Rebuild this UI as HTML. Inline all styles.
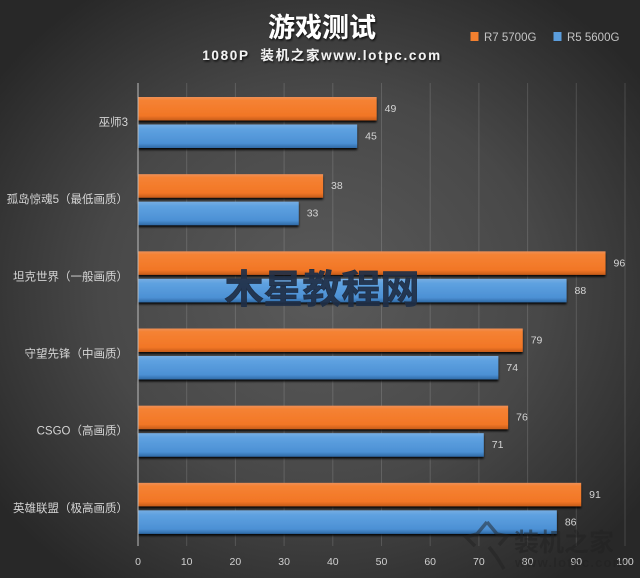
<!DOCTYPE html>
<html lang="zh">
<head>
<meta charset="utf-8">
<title>游戏测试</title>
<style>
html,body{margin:0;padding:0;background:#333;}
#chart{display:block;width:640px;height:578px;font-family:"Liberation Sans","Noto Sans CJK SC",sans-serif;}
</style>
</head>
<body>
<svg id="chart" xmlns="http://www.w3.org/2000/svg" width="640" height="578" viewBox="0 0 640 578">
  <defs>
    <radialGradient id="bgGrad" gradientUnits="userSpaceOnUse" cx="320" cy="290" r="400" gradientTransform="translate(0 29) scale(1 0.9)">
      <stop offset="0" stop-color="#5a5a5a"/>
      <stop offset="0.55" stop-color="#484848"/>
      <stop offset="1" stop-color="#282828"/>
    </radialGradient>
    <linearGradient id="orangeGrad" x1="0" y1="0" x2="0" y2="1">
      <stop offset="0" stop-color="#ee9058"/>
      <stop offset="0.14" stop-color="#f58233"/>
      <stop offset="0.8" stop-color="#f27626"/>
      <stop offset="1" stop-color="#c65c1a"/>
    </linearGradient>
    <linearGradient id="blueGrad" x1="0" y1="0" x2="0" y2="1">
      <stop offset="0" stop-color="#76ade2"/>
      <stop offset="0.2" stop-color="#5ea1e0"/>
      <stop offset="0.8" stop-color="#4c90d4"/>
      <stop offset="1" stop-color="#2f6aa6"/>
    </linearGradient>
    <filter id="barShadow" x="-5%" y="-20%" width="110%" height="150%">
      <feDropShadow dx="0" dy="2" stdDeviation="1" flood-color="#000" flood-opacity="0.9"/>
    </filter>
    <filter id="titleShadow" x="-20%" y="-30%" width="140%" height="170%">
      <feDropShadow dx="1" dy="1.5" stdDeviation="1" flood-color="#000" flood-opacity="0.8"/>
    </filter>
    <filter id="soften" x="-5%" y="-5%" width="110%" height="110%">
      <feGaussianBlur stdDeviation="0.35"/>
    </filter>
  </defs>

  <rect width="640" height="578" fill="url(#bgGrad)"/>

  <g id="grid"></g>

  <g filter="url(#titleShadow)">
    <text x="322" y="37" text-anchor="middle" font-size="27" font-weight="700" fill="#ffffff">游戏测试</text>
  </g>
  <g filter="url(#titleShadow)">
    <text x="322" y="60" text-anchor="middle" font-size="13.500" font-weight="700" fill="#f2f2f2" letter-spacing="1.700" xml:space="preserve">1080P  装机之家www.lotpc.com</text>
  </g>

  <g>
    <g>
      <rect x="470.500" y="32" width="8" height="9" fill="#f3802f"/>
      <text x="484" y="41" font-size="11.500" fill="#c4c4c4">R7 5700G</text>
    </g>
    <g>
      <rect x="553.500" y="32" width="8" height="9" fill="#5b9ddc"/>
      <text x="567" y="41" font-size="11.500" fill="#c4c4c4">R5 5600G</text>
    </g>
  </g>

  <g id="bars"></g>
  <g id="values" filter="url(#soften)"></g>
  <g id="cats" filter="url(#soften)"></g>
  <g id="ticks" filter="url(#soften)"></g>

  <line x1="138" y1="83" x2="138" y2="546" stroke="#bdbdbd" stroke-width="1"/>

  <text x="322" y="303" text-anchor="middle" font-size="39" font-weight="700" fill="#1f2f47" fill-opacity="0.92" stroke="#1f2f47" stroke-width="0.800" style="font-family:'Noto Sans CJK SC','WenQuanYi Zen Hei',sans-serif">木星教程网</text>

  <g opacity="0.5">
    <path d="M487 522 L497 534 L507 536 L499 545 M487 522 L477 534 L466 537 L475 546 M489 547 L496 556 L504 569" fill="none" stroke="#222" stroke-width="3.500"/>
    <text x="514" y="551" font-size="25" font-weight="700" fill="#222">装机之家</text>
    <text x="515" y="567" font-size="13" font-weight="700" fill="#222" letter-spacing="1.200">www.lotpc.com</text>
  </g>
</svg>
<script>
var categories = ["巫师3", "孤岛惊魂5（最低画质）", "坦克世界（一般画质）", "守望先锋（中画质）", "CSGO（高画质）", "英雄联盟（极高画质）"];
var seriesR7 = [49, 38, 96, 79, 76, 91];
var seriesR5 = [45, 33, 88, 74, 71, 86];
var tickLabels = [0, 10, 20, 30, 40, 50, 60, 70, 80, 90, 100];

var NS = "http://www.w3.org/2000/svg";
var plotLeft = 138, plotRight = 625, plotTop = 83, plotBottom = 546;
var axisMax = 100;
function xScale(v) { return plotLeft + (v / axisMax) * (plotRight - plotLeft); }
function bandTop(i) { return 97 + i * (plotBottom - plotTop) / 6; }
function make(tag, attrs, parent) {
  var el = document.createElementNS(NS, tag);
  for (var k in attrs) el.setAttribute(k, attrs[k]);
  parent.appendChild(el);
  return el;
}
var grid = document.getElementById("grid");
var ticks = document.getElementById("ticks");
var bars = document.getElementById("bars");
var values = document.getElementById("values");
var cats = document.getElementById("cats");

tickLabels.forEach(function (t) {
  var x = xScale(t);
  if (t > 0) {
    var ln = make("line", {x1: x, x2: x, y1: plotTop, y2: plotBottom, stroke: "#ffffff", "stroke-opacity": 0.14, "stroke-width": 1}, grid);
    
    
  }
  var tx = make("text", {x: x, y: 565, "text-anchor": "middle", "font-size": 10.5, fill: "#d0d0d0"}, ticks);
  
  
  tx.textContent = t;
});

function drawSeries(vals, fillId, offset, barName, valueName) {
  vals.forEach(function (v, i) {
    var y = bandTop(i) + offset;
    var r = make("rect", {x: xScale(0), y: y, width: xScale(v) - xScale(0), height: 23.5, fill: "url(#" + fillId + ")", filter: "url(#barShadow)"}, bars);
    
    
    var t = make("text", {x: xScale(v) + 8, y: y + 15, "font-size": 10.5, fill: "#d4d4d4"}, values);
    
    
    t.textContent = v;
  });
}
drawSeries(seriesR7, "orangeGrad", 0, "bar-r7-5700g", "value-label-r7-5700g");
drawSeries(seriesR5, "blueGrad", 27.5, "bar-r5-5600g", "value-label-r5-5600g");

categories.forEach(function (c, i) {
  var t = make("text", {x: 128, y: bandTop(i) + 29, "text-anchor": "end", "font-size": 11.5, fill: "#d4d4d4"}, cats);
  
  
  t.textContent = c;
});
</script>
</body>
</html>
